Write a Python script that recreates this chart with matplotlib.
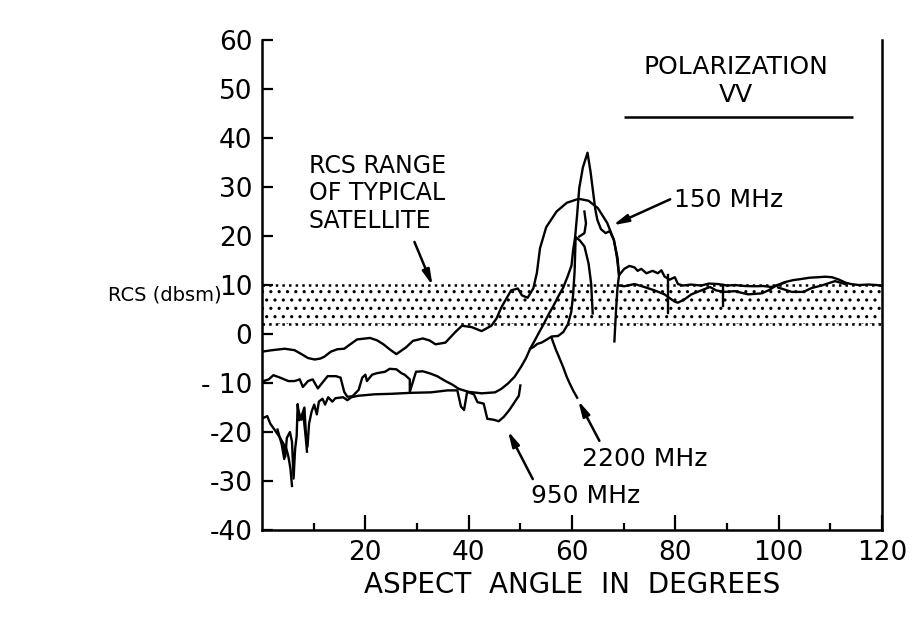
import matplotlib
matplotlib.use('Agg')
import matplotlib.pyplot as plt

plt.rcParams['font.family'] = ['DejaVu Sans']
plt.rcParams['hatch.linewidth'] = 1.1

# ---- data (aspect angle in degrees, RCS in dBsm) ----
f150_x = [0, 1.9, 4.4, 6.3, 7.8, 8.9, 10.2, 11.3, 12.1, 13.3, 14.6, 15.9, 17.2, 18.4,
          20.9, 22.3, 23.5, 24.8, 26.0, 27.9, 29.2, 31.1, 32.4, 33.6, 35.5, 37.4, 38.7,
          40.6, 42.5, 44.4, 45.4, 46.3, 48.2, 49.5, 50.3, 51.4, 52.5, 53.2, 53.8, 55.0,
          57.0, 59.0, 61.3, 63.2, 65.0, 66.8, 68.1, 68.8, 69.1, 68.8, 68.5, 68.2]
f150_y = [-3.6, -3.3, -3.0, -3.3, -4.2, -4.9, -5.2, -5.0, -4.6, -3.6, -3.1, -3.0, -2.0, -1.1,
          -0.8, -1.3, -2.1, -3.2, -4.1, -2.7, -1.4, -0.9, -1.3, -2.1, -1.75, 0.4, 1.7,
          1.4, 0.6, 1.7, 3.2, 5.4, 8.9, 9.3, 7.9, 7.4, 9.3, 12.5, 17.5, 21.8,
          25.0, 26.8, 27.6, 27.2, 25.7, 22.7, 19.2, 15.6, 12.0, 9.5, 4.5, -1.5]

f2200_x = [0, 1.3, 2.2, 3.5, 5.1, 6.3, 7.3, 7.9, 8.9, 9.8, 10.8, 11.7, 12.7, 14.3, 15.2,
           15.9, 16.5, 17.5, 18.7, 19.4, 20.0, 20.3, 21.3, 22.2, 23.8, 24.7, 26.0, 27.0,
           27.6, 28.6, 28.6, 29.8, 31.1, 32.4, 33.9, 35.5, 36.8, 38.1, 40.0, 42.5, 45.1,
           46.3, 47.6, 48.9, 50.1, 51.1, 51.9, 52.9, 53.5, 54.5, 55.4, 56.4, 57.3, 58.3,
           59.2, 59.9, 60.2, 60.6, 61.0, 61.4, 62.1, 63.0, 63.6, 64.1, 64.5, 64.9, 65.6,
           66.5, 67.3, 68.1, 68.7, 69.1, 70.1, 71.1, 72.1, 72.7, 73.4, 74.4, 75.6, 76.6,
           77.3, 77.9, 78.9, 79.9, 80.5, 81.5, 83.0, 85.0, 86.5, 88.3, 90.0, 91.5, 93.5,
           95.4, 97.0, 98.6, 100.0, 101.2, 102.8, 104.5, 106.0, 107.7, 109.0, 110.3, 111.7,
           112.9, 114.0, 115.5, 117.4, 119.0, 120.0]
f2200_y = [-9.7, -9.25, -8.4, -8.9, -9.6, -9.6, -9.25, -10.8, -9.6, -9.25, -11.1, -9.9, -8.6,
           -8.6, -8.9, -11.8, -12.8, -12.7, -11.4, -8.9, -8.3, -9.6, -8.3, -8.0, -7.7, -7.1,
           -7.2, -8.0, -8.3, -9.25, -11.8, -7.7, -7.6, -8.0, -8.6, -9.6, -10.3, -11.2, -11.8,
           -12.1, -11.9, -11.2, -10.1, -8.7, -6.75, -4.9, -3.0, -1.1, 0.1, 2.0, 3.9, 5.75,
           7.6, 9.5, 11.9, 14.0, 17.0, 19.8, 24.5, 29.8, 34.0, 37.0, 33.0, 28.8, 25.5,
           23.3, 21.4, 20.6, 21.0, 19.2, 15.6, 12.0, 13.3, 13.9, 13.6, 12.9, 13.3, 12.4,
           12.9, 12.4, 13.0, 11.75, 11.1, 11.6, 10.2, 9.9, 10.1, 9.9, 10.3, 10.2, 9.9, 10.0,
           9.8, 9.75, 9.8, 9.6, 10.1, 10.6, 11.0, 11.25, 11.5, 11.6, 11.7, 11.6, 11.1, 10.5,
           10.2, 10.0, 10.1, 10.0, 9.8]

f950_x = [0.3, 1.0, 1.6, 2.6, 3.5, 4.2, 4.5, 4.8, 5.4, 5.8, 6.1, 6.4, 6.7, 6.9, 7.2, 7.7,
          8.2, 8.5, 8.8, 9.1, 9.6, 10.1, 10.6, 11.0, 11.7, 12.2, 12.8, 13.6, 14.2, 15.7,
          16.5, 17.3, 18.6, 21.8, 25.0, 28.8, 32.7, 35.9, 37.8, 38.5, 39.1, 39.7, 41.0,
          41.7, 42.9, 43.6, 44.9, 45.8, 46.8, 47.8, 48.7, 49.7, 50.0]
f950_y = [-17.1, -16.75, -18.3, -19.8, -21.2, -22.5, -25.0, -21.2, -20.0, -22.0, -29.5,
          -23.5, -20.8, -14.3, -17.6, -16.6, -15.0, -20.5, -23.0, -18.3, -15.8, -14.4,
          -16.4, -13.8, -13.2, -14.4, -12.9, -13.8, -13.1, -12.9, -13.5, -12.9, -12.6,
          -12.3, -12.2, -12.0, -11.9, -11.5, -11.5, -14.8, -15.5, -11.8, -12.3, -13.9,
          -14.2, -17.3, -17.5, -17.8, -16.9, -15.6, -14.2, -12.6, -10.5]

# extra short strokes of the noisy traces
spike1_x = [3.0, 3.8, 4.3, 4.6, 5.1, 5.5, 5.8]
spike1_y = [-19.5, -22.5, -25.5, -23.0, -25.0, -27.5, -31.0]
spike2_x = [7.0, 7.6, 8.0, 8.4, 8.7]
spike2_y = [-15.5, -17.5, -16.5, -20.5, -24.0]

rise_x = [51.9, 52.6, 53.3, 54.1, 55.0, 56.05, 57.3, 58.3, 59.2, 59.85, 60.2, 60.5, 60.7,
          61.5, 62.4, 63.2, 63.7, 64.0]
rise_y = [-3.0, -2.6, -2.0, -1.75, -1.2, -0.5, -0.4, 0.4, 2.0, 4.5, 7.9, 12.8, 19.8,
          19.1, 17.9, 14.4, 10.3, 4.2]
drop_x = [56.05, 56.8, 57.6, 58.3, 59.0, 59.6, 60.3, 61.0]
drop_y = [-0.8, -3.0, -5.0, -6.8, -8.8, -10.2, -11.7, -13.0]
hook_x = [62.4, 62.7, 62.4, 61.4]
hook_y = [25.0, 22.6, 20.6, 19.9]

band_lo_x = [69.2, 70.1, 72.1, 74.0, 76.0, 77.9, 79.2, 79.9, 80.5, 81.8, 83.1, 85.0, 86.7,
             87.9, 89.6, 91.5, 94.1, 96.7, 98.0, 99.3, 101.2]
band_lo_y = [9.9, 9.75, 10.2, 9.6, 8.9, 8.1, 7.1, 6.6, 6.4, 7.1, 8.1, 8.9, 9.6,
             8.9, 8.6, 8.75, 8.1, 8.3, 8.9, 9.75, 10.5]
lens_x = [99.9, 102.5, 104.8, 106.4, 108.3, 110.9, 112.9]
lens_y = [9.5, 8.6, 8.6, 9.4, 9.9, 10.8, 10.2]
drop2_x = [78.6, 78.6]
drop2_y = [12.0, 4.3]
drop3_x = [89.2, 89.2]
drop3_y = [10.0, 5.8]

band_low, band_high = 2, 10
xticks = [20, 40, 60, 80, 100, 120]
yticks = [-40, -30, -20, -10, 0, 10, 20, 30, 40, 50, 60]
ytick_labels = ['-40', '-30', '-20', '- 10', '0', '10', '20', '30', '40', '50', '60']

fig = plt.figure(figsize=(9.14, 6.21), dpi=100)
ax = fig.add_axes([0.2867, 0.1465, 0.6783, 0.789])

# shaded satellite RCS band
ax.fill_between([0, 120], band_low, band_high, facecolor='none', edgecolor='black',
                hatch='..', linewidth=0)
ax.hlines([band_low, band_high], 0, 120, colors='black', linestyles=':', linewidth=1.8)

kw = dict(color='black', linewidth=1.7, solid_joinstyle='round')
for xs, ys in [(f150_x, f150_y), (f2200_x, f2200_y), (f950_x, f950_y),
               (spike1_x, spike1_y), (spike2_x, spike2_y), (rise_x, rise_y),
               (drop_x, drop_y), (hook_x, hook_y), (band_lo_x, band_lo_y),
               (lens_x, lens_y), (drop2_x, drop2_y), (drop3_x, drop3_y)]:
    ax.plot(xs, ys, **kw)

ax.set_xlim(0, 120)
ax.set_ylim(-40, 60)
ax.set_xticks(xticks)
ax.set_xticks([10, 30, 50, 70, 90, 110], minor=True)
ax.set_yticks(yticks)
ax.set_yticklabels(ytick_labels)
ax.tick_params(axis='both', which='major', direction='in', length=11, width=1.6,
               labelsize=19, pad=7)
ax.tick_params(axis='x', which='minor', direction='in', length=5, width=1.6)
ax.tick_params(axis='y', which='major', length=8)
ax.spines['top'].set_visible(False)
for s in ['left', 'right', 'bottom']:
    ax.spines[s].set_linewidth(1.8)

ax.set_xlabel('ASPECT  ANGLE  IN  DEGREES', fontsize=20, labelpad=4)
ax.text(-0.065, 8.0, 'RCS (dbsm)', transform=ax.get_yaxis_transform(),
        ha='right', va='center', fontsize=14)

# annotations
ax.text(91.7, 54.4, 'POLARIZATION', ha='center', va='center', fontsize=18)
ax.text(91.7, 48.8, 'VV', ha='center', va='center', fontsize=18)
ax.hlines(44.2, 70, 114.3, colors='black', linewidth=1.8)

for i, line in enumerate(['RCS RANGE', 'OF TYPICAL', 'SATELLITE']):
    ax.text(9.0, 34.3 - 5.6 * i, line, ha='left', va='center', fontsize=17)

arrow = dict(arrowstyle='-|>,head_length=0.9,head_width=0.22', color='black',
             linewidth=1.8, shrinkA=0, shrinkB=0)
ax.annotate('', xy=(33.0, 9.9), xytext=(29.5, 18.8), arrowprops=arrow)
ax.annotate('', xy=(67.9, 22.2), xytext=(79.0, 27.5), arrowprops=arrow)
ax.text(79.8, 27.3, '150 MHz', ha='left', va='center', fontsize=18)
ax.annotate('', xy=(61.2, -13.6), xytext=(65.3, -21.8), arrowprops=arrow)
ax.text(62.0, -25.6, '2200 MHz', ha='left', va='center', fontsize=18)
ax.annotate('', xy=(47.6, -19.8), xytext=(52.4, -29.6), arrowprops=arrow)
ax.text(52.0, -33.0, '950 MHz', ha='left', va='center', fontsize=18)

fig.savefig('out.png', dpi=100)
